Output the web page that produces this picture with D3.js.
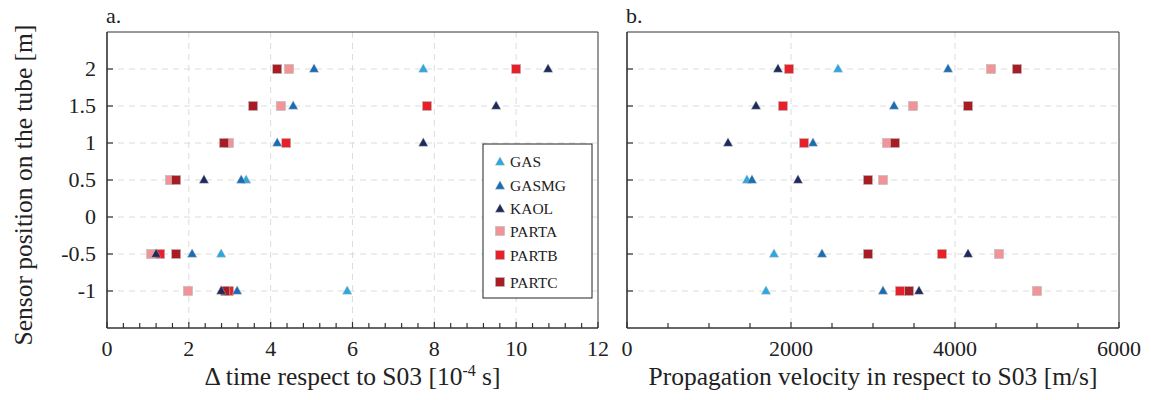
<!DOCTYPE html>
<html><head><meta charset="utf-8">
<script src="https://cdn.jsdelivr.net/npm/d3@7/dist/d3.min.js"></script>
<style>body{margin:0;background:#fff}svg{display:block}</style>
</head><body><svg id="c" width="1151" height="400" font-family="Liberation Serif, Times New Roman, Times, serif"></svg>
<script>
const positions = [2, 1.5, 1, 0.5, -0.5, -1];
const seriesNames = ["GAS", "GASMG", "KAOL", "PARTA", "PARTB", "PARTC"];
const seriesColors = ["#2fa6dc", "#1b6db3", "#1e2a5c", "#f29497", "#e8202a", "#a81d23"];
const seriesShapes = ["tri", "tri", "tri", "sq", "sq", "sq"];
// panel a: Δ time [1e-4 s]
const dtGAS   = [7.73, null, null, 3.40, 2.79, 5.87];
const dtGASMG = [5.06, 4.55, 4.16, 3.28, 2.08, 3.18];
const dtKAOL  = [10.78, 9.51, 7.73, 2.37, 1.20, 2.79];
const dtPARTA = [4.45, 4.25, 2.98, 1.54, 1.08, 1.98];
const dtPARTB = [10.0, 7.82, 4.38, null, 1.30, 2.98];
const dtPARTC = [4.16, 3.57, 2.86, 1.69, 1.69, 2.89];
// panel b: velocity [m/s]
const vGAS   = [2573, null, null, 1463, 1793, 1695];
const vGASMG = [3915, 3256, 2268, 1524, 2378, 3122];
const vKAOL  = [1841, 1573, 1232, 2085, 4159, 3561];
const vPARTA = [4439, 3488, 3171, 3122, 4537, 5000];
const vPARTB = [1976, 1902, 2159, null, 3841, 3329];
const vPARTC = [4756, 4159, 3268, 2939, 2939, 3439];
const yTicks = [-1, -0.5, 0, 0.5, 1, 1.5, 2];
const xTicksA = [0, 2, 4, 6, 8, 10, 12];
const xTicksB = [0, 2000, 4000, 6000];

const dtSeries = [dtGAS, dtGASMG, dtKAOL, dtPARTA, dtPARTB, dtPARTC];
const vSeries = [vGAS, vGASMG, vKAOL, vPARTA, vPARTB, vPARTC];
const drawOrder = [3, 4, 5, 0, 1, 2];

const svg = d3.select("#c");
const plotTop = 32, plotBottom = 328;
const textCol = "#222";
const y = d3.scaleLinear().domain([-1.5, 2.5]).range([plotBottom, plotTop]);

function marker(g, shape, cx, cy, color) {
  if (shape === "sq") {
    g.append("rect").attr("x", cx - 4.5).attr("y", cy - 4.5).attr("width", 9).attr("height", 9)
      .attr("fill", color).attr("stroke", "#b9b9b9").attr("stroke-width", 0.6);
  } else {
    const w = 9.5, h = 8.5;
    g.append("path").attr("d", `M${cx},${cy - h / 2 - 1}L${cx + w / 2},${cy + h / 2 - 1}L${cx - w / 2},${cy + h / 2 - 1}Z`)
      .attr("fill", color).attr("stroke", "#c9c9c9").attr("stroke-width", 0.4);
  }
}

function panel(x0, x1, domain, ticks, minorStep, gridVals, data, label, title, showY) {
  const x = d3.scaleLinear().domain(domain).range([x0, x1]);
  const g = svg.append("g");
  g.selectAll(".hg").data(yTicks).enter().append("line")
    .attr("x1", x0).attr("x2", x1).attr("y1", d => y(d)).attr("y2", d => y(d))
    .attr("stroke", "#dcdcdc").attr("stroke-width", 1).attr("stroke-dasharray", "6,5");
  g.selectAll(".vg").data(gridVals).enter().append("line")
    .attr("x1", d => x(d)).attr("x2", d => x(d)).attr("y1", plotTop).attr("y2", plotBottom)
    .attr("stroke", "#dcdcdc").attr("stroke-width", 1).attr("stroke-dasharray", "6,5");
  g.append("line").attr("x1", x0).attr("x2", x1).attr("y1", plotTop).attr("y2", plotTop).attr("stroke", "#333").attr("stroke-width", 1);
  g.append("line").attr("x1", x1).attr("x2", x1).attr("y1", plotTop).attr("y2", plotBottom).attr("stroke", "#333").attr("stroke-width", 1);
  g.append("line").attr("x1", x0).attr("x2", x0).attr("y1", plotTop).attr("y2", plotBottom).attr("stroke", "#333").attr("stroke-width", 1.6);
  g.append("line").attr("x1", x0).attr("x2", x1).attr("y1", plotBottom).attr("y2", plotBottom).attr("stroke", "#333").attr("stroke-width", 1.6);
  const minors = d3.range(domain[0], domain[1] + minorStep / 2, minorStep);
  g.selectAll(".xt").data(minors).enter().append("line")
    .attr("x1", d => x(d)).attr("x2", d => x(d)).attr("y1", plotBottom)
    .attr("y2", d => plotBottom - (ticks.some(t => Math.abs(t - d) < 1e-6) ? 6 : 5))
    .attr("stroke", "#333").attr("stroke-width", 1.2);
  g.selectAll(".xl").data(ticks).enter().append("text")
    .attr("x", d => x(d)).attr("y", plotBottom + 28).attr("text-anchor", "middle").attr("font-size", 22)
    .attr("fill", textCol).text(d => d);
  g.selectAll(".yt").data(yTicks).enter().append("line")
    .attr("x1", x0).attr("x2", x0 + 6).attr("y1", d => y(d)).attr("y2", d => y(d))
    .attr("stroke", "#333").attr("stroke-width", 1.2);
  if (showY) {
    g.selectAll(".yl").data(yTicks).enter().append("text")
      .attr("x", x0 - 11).attr("y", d => y(d) + 7).attr("text-anchor", "end").attr("font-size", 22)
      .attr("fill", textCol).text(d => d);
  }
  drawOrder.forEach(si => {
    data[si].forEach((v, i) => {
      if (v === null) return;
      marker(g, seriesShapes[si], x(v), y(positions[i]), seriesColors[si]);
    });
  });
  g.append("text").attr("x", x0 - 1).attr("y", 23).attr("font-size", 22).attr("fill", textCol).text(label);
  g.append("text").attr("x", (x0 + x1) / 2).attr("y", 385).attr("text-anchor", "middle").attr("font-size", 25.5)
    .attr("fill", textCol).html(title);
  return x;
}

panel(107, 598, [0, 12], xTicksA, 0.4, [2, 4, 6, 8, 10], dtSeries, "a.",
  'Δ time respect to S03 [10<tspan dy="-9" font-size="16">-4</tspan><tspan dy="9"> s]</tspan>', true);
panel(627, 1119, [0, 6000], xTicksB, 500, [2000, 4000], vSeries, "b.",
  'Propagation velocity in respect to S03 [m/s]', false);

svg.append("text").attr("transform", `translate(32,185) rotate(-90)`)
  .attr("text-anchor", "middle").attr("font-size", 25.5).attr("fill", textCol).text("Sensor position on the tube [m]");

const lg = svg.append("g");
lg.append("rect").attr("x", 483).attr("y", 144).attr("width", 109).attr("height", 154)
  .attr("fill", "#fff").attr("stroke", "#222").attr("stroke-width", 1);
const legendY = [161, 185, 208, 231, 255, 282];
seriesNames.forEach((n, i) => {
  marker(lg, seriesShapes[i], 500, legendY[i] + (seriesShapes[i] === "tri" ? 1 : 0), seriesColors[i]);
  lg.append("text").attr("x", 510).attr("y", legendY[i] + 5.5).attr("font-size", 15.5).attr("fill", textCol).text(n);
});
</script></body></html>
